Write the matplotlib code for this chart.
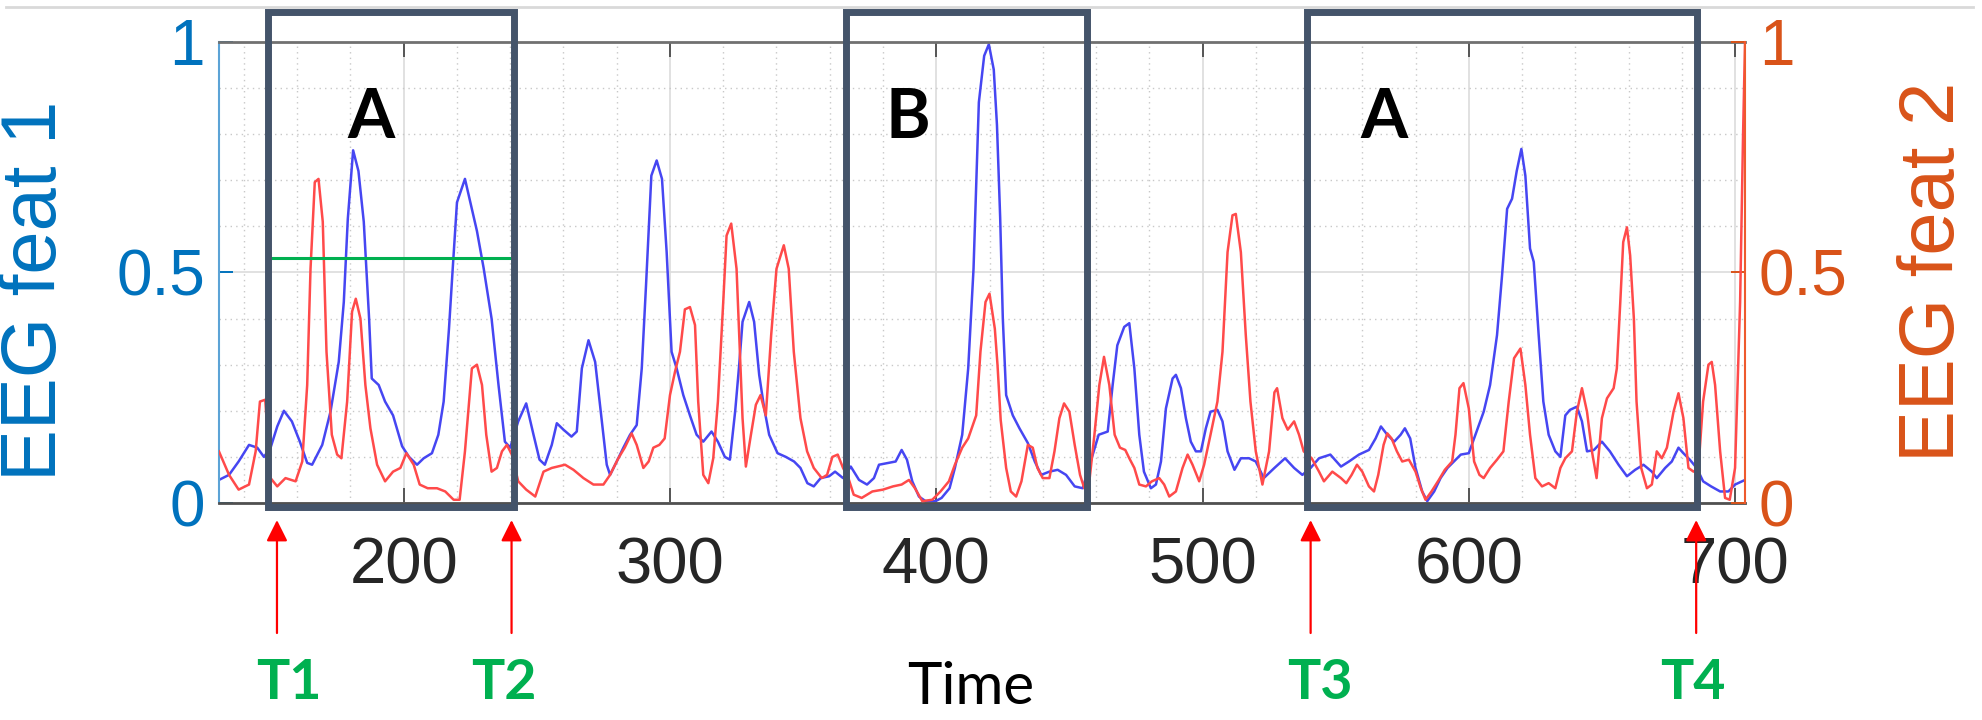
import numpy as np
import matplotlib.pyplot as plt
from matplotlib.patches import Rectangle
from matplotlib.lines import Line2D
from matplotlib.ticker import MultipleLocator

# EEG feature 1 (left axis, blue)
t_feat1 = [130.6, 134.4, 138, 141.9, 145, 147.5, 150, 152.5, 155, 158, 161, 163.75, 165.6,
           169.4, 172.5, 175.6, 177.5, 179, 181, 183, 185, 187, 188, 190.6, 193, 196, 199.4,
           202, 205, 207.5, 210.6, 213, 215, 217, 218.4, 220, 223, 225.6, 227.5, 230, 233,
           235.6, 238, 240, 243, 246, 248.75, 251, 253, 255.6, 257.5, 260, 263, 265, 266.9,
           269.4, 271.9, 274.4, 276.25, 277.5, 280, 282.5, 285, 287.5, 289.4, 291, 293, 295,
           297, 298.75, 300.6, 302.5, 305, 307.5, 310, 312.5, 315.6, 318, 320.6, 322.5, 324.5,
           326, 327.25, 329.75, 331.6, 333.5, 335.4, 337.25, 340.4, 343.5, 346.6, 349, 351.6,
           354, 356.6, 359.75, 362, 365, 367.9, 371, 374, 376.6, 378.5, 382, 384.75, 387, 389,
           391, 393.5, 396, 399.75, 402, 405, 407, 409.75, 412, 414, 416, 418, 419.75, 421.6,
           422.8, 424, 425, 426.25, 428.75, 431.25, 434.4, 437, 439.4, 442.5, 445.6, 448.75,
           452, 455, 458.75, 461, 464.4, 466.25, 468, 470.6, 472.5, 474.4, 476.25, 478, 480.6,
           482.5, 484.4, 486.25, 488.75, 490, 491.9, 493.75, 495.6, 497.5, 499.4, 501.25, 503,
           505.6, 507.5, 509.4, 512, 514.4, 517.5, 520, 523, 527, 531, 534.4, 537.5, 540.6,
           543.75, 548, 552, 555, 558.75, 562.5, 565, 567, 569.4, 572, 574.4, 576, 578, 580,
           582.5, 584.4, 587, 589.4, 592, 594.4, 597, 600, 602.5, 605.6, 608, 610.6, 612.5,
           614.4, 616.25, 618, 619.75, 621.25, 623, 624.4, 626.25, 628, 630, 632.5, 634.4,
           636.25, 638, 640.6, 642.5, 644.4, 647, 650, 653, 656.25, 659.4, 662.5, 665.6,
           668.75, 670.6, 673.75, 676.25, 678.75, 680.6, 683, 685.6, 688, 691, 694.4, 697.5,
           700, 703.75]
v_feat1 = [0.05, 0.061, 0.09, 0.126, 0.12, 0.10, 0.12, 0.166, 0.20, 0.177, 0.133, 0.087, 0.083,
           0.126, 0.198, 0.306, 0.436, 0.616, 0.765, 0.72, 0.61, 0.40, 0.27, 0.256, 0.22, 0.19,
           0.123, 0.10, 0.083, 0.097, 0.108, 0.148, 0.22, 0.378, 0.508, 0.652, 0.703, 0.638,
           0.59, 0.51, 0.40, 0.256, 0.133, 0.12, 0.177, 0.216, 0.148, 0.094, 0.083, 0.126, 0.173,
           0.159, 0.144, 0.155, 0.292, 0.353, 0.306, 0.177, 0.083, 0.061, 0.09, 0.12, 0.148,
           0.169, 0.292, 0.472, 0.71, 0.743, 0.703, 0.544, 0.328, 0.292, 0.234, 0.19, 0.148,
           0.133, 0.155, 0.133, 0.10, 0.094, 0.20, 0.30, 0.393, 0.436, 0.393, 0.278, 0.205,
           0.148, 0.108, 0.10, 0.09, 0.076, 0.043, 0.036, 0.054, 0.058, 0.068, 0.054, 0.079,
           0.05, 0.04, 0.054, 0.083, 0.087, 0.09, 0.115, 0.094, 0.047, 0.014, 0.004, 0.004,
           0.011, 0.032, 0.076, 0.148, 0.292, 0.508, 0.869, 0.97, 0.995, 0.94, 0.82, 0.62,
           0.40, 0.234, 0.19, 0.162, 0.13, 0.09, 0.061, 0.068, 0.072, 0.061, 0.036, 0.032,
           0.105, 0.148, 0.155, 0.256, 0.342, 0.382, 0.39, 0.292, 0.148, 0.068, 0.032, 0.04,
           0.09, 0.205, 0.27, 0.278, 0.249, 0.184, 0.133, 0.112, 0.112, 0.162, 0.198, 0.202,
           0.177, 0.112, 0.072, 0.097, 0.097, 0.09, 0.054, 0.076, 0.097, 0.076, 0.061, 0.076,
           0.097, 0.105, 0.079, 0.09, 0.105, 0.115, 0.14, 0.166, 0.148, 0.133, 0.148, 0.162,
           0.14, 0.076, 0.025, 0.004, 0.025, 0.054, 0.076, 0.09, 0.105, 0.108, 0.148, 0.198,
           0.256, 0.364, 0.494, 0.638, 0.66, 0.72, 0.768, 0.71, 0.552, 0.523, 0.364, 0.22,
           0.148, 0.112, 0.10, 0.19, 0.202, 0.209, 0.177, 0.112, 0.115, 0.133, 0.112, 0.083,
           0.058, 0.072, 0.083, 0.068, 0.054, 0.076, 0.09, 0.12, 0.108, 0.094, 0.076, 0.047,
           0.036, 0.025, 0.025, 0.04, 0.05]

# EEG feature 2 (right axis, red)
t_feat2 = [130.6, 134.4, 138, 141.9, 144.4, 146, 148, 150, 152.5, 155.6, 159.4, 161.9, 163.75,
           165, 166.6, 168, 169.6, 171, 173, 175, 176.6, 178.75, 180.6, 182, 183.75, 185.6,
           187.5, 190, 193, 196, 198.75, 201, 203.75, 206, 209, 212.5, 215.6, 218.75, 221, 223,
           225.6, 227.5, 229.4, 231, 233, 235, 236.9, 238.75, 240.6, 243, 246, 249.4, 252.5,
           255.6, 260.6, 263.75, 267.5, 271.25, 275, 277.5, 280.6, 283, 285.6, 287.5, 290, 292,
           293.75, 296, 298, 300, 301.9, 303.75, 305.6, 307.5, 309.4, 310.6, 312.5, 314.4,
           316.25, 318, 320, 321.25, 323, 325, 326, 327.25, 328.5, 330.4, 332.25, 334, 336, 338,
           340, 342.75, 344.6, 346.5, 349, 351.5, 354, 357, 359, 361, 363, 365, 367, 369, 372,
           376, 380, 383.75, 387, 389.75, 392, 394.75, 398.5, 401.6, 404.75, 407, 409.75, 412,
           415, 416.6, 418.5, 420, 422, 423, 424.2, 426.25, 428, 430, 432, 434.4, 436.25, 438,
           440, 442.5, 444.4, 446.25, 448, 450, 452, 454, 455.6, 457.5, 459.4, 461.25, 463, 465,
           467, 469, 471, 472.5, 474.4, 476.25, 478.75, 481, 483.75, 485.6, 487.5, 490, 492.5,
           494.4, 496.25, 498.75, 500.6, 503, 505.6, 507.5, 509.4, 511.25, 512.5, 514.4, 516.25,
           518, 520, 522.5, 525, 527, 528, 530, 532, 534.4, 536.25, 538, 541, 543.75, 545.6,
           548.75, 552, 554, 556, 558, 560, 562.5, 564.4, 566, 568, 569.4, 571, 573, 575, 577.5,
           580, 582, 583.75, 586, 588.75, 591, 593.75, 595, 596.5, 598, 600, 602, 604, 605.6,
           608, 610.6, 613, 615, 617, 619.4, 621.25, 623, 625, 627.5, 630, 632.5, 634.4, 636.25,
           638.75, 640.6, 642.5, 644.4, 646.25, 648, 650, 651.9, 654.4, 655.6, 656.9, 658,
           659.4, 660.6, 662, 663, 664.75, 666.9, 668.75, 670.6, 672.5, 674.4, 676.9, 678.75,
           680.6, 682.5, 684.4, 686.25, 688, 690, 691.25, 692.5, 694.4, 696.25, 698, 700, 701.9,
           703, 703.75]
v_feat2 = [0.112, 0.061, 0.029, 0.04, 0.112, 0.22, 0.224, 0.054, 0.036, 0.054, 0.047, 0.09, 0.256,
           0.508, 0.696, 0.703, 0.61, 0.328, 0.148, 0.105, 0.097, 0.22, 0.415, 0.443, 0.40,
           0.256, 0.162, 0.083, 0.047, 0.068, 0.076, 0.108, 0.083, 0.04, 0.032, 0.032, 0.025,
           0.007, 0.007, 0.112, 0.292, 0.30, 0.256, 0.148, 0.068, 0.076, 0.112, 0.126, 0.105,
           0.047, 0.029, 0.014, 0.068, 0.076, 0.083, 0.072, 0.054, 0.04, 0.04, 0.061, 0.097,
           0.12, 0.151, 0.126, 0.076, 0.09, 0.12, 0.126, 0.14, 0.234, 0.285, 0.328, 0.42, 0.425,
           0.386, 0.22, 0.061, 0.043, 0.097, 0.22, 0.436, 0.58, 0.606, 0.508, 0.364, 0.184,
           0.079, 0.148, 0.213, 0.234, 0.19, 0.364, 0.508, 0.559, 0.508, 0.328, 0.184, 0.112,
           0.076, 0.054, 0.061, 0.10, 0.105, 0.076, 0.054, 0.018, 0.011, 0.025, 0.029, 0.036,
           0.04, 0.05, 0.032, 0.004, 0.007, 0.025, 0.047, 0.083, 0.12, 0.14, 0.19, 0.328, 0.436,
           0.454, 0.378, 0.30, 0.18, 0.076, 0.025, 0.014, 0.047, 0.126, 0.12, 0.076, 0.054,
           0.054, 0.112, 0.184, 0.216, 0.198, 0.126, 0.061, 0.032, 0.047, 0.148, 0.256, 0.317,
           0.256, 0.148, 0.12, 0.115, 0.097, 0.076, 0.04, 0.036, 0.047, 0.054, 0.04, 0.014,
           0.025, 0.076, 0.105, 0.083, 0.047, 0.083, 0.148, 0.22, 0.328, 0.544, 0.624, 0.627,
           0.544, 0.364, 0.22, 0.112, 0.04, 0.112, 0.24, 0.249, 0.184, 0.159, 0.177, 0.148,
           0.112, 0.097, 0.068, 0.047, 0.068, 0.054, 0.043, 0.061, 0.083, 0.068, 0.036, 0.025,
           0.061, 0.126, 0.151, 0.14, 0.112, 0.09, 0.094, 0.068, 0.032, 0.007, 0.025, 0.05,
           0.072, 0.09, 0.148, 0.249, 0.26, 0.205, 0.09, 0.061, 0.054, 0.076, 0.094, 0.112,
           0.22, 0.314, 0.335, 0.256, 0.148, 0.054, 0.036, 0.043, 0.032, 0.076, 0.097, 0.112,
           0.198, 0.249, 0.198, 0.112, 0.054, 0.184, 0.227, 0.249, 0.292, 0.436, 0.566, 0.598,
           0.537, 0.40, 0.22, 0.076, 0.032, 0.04, 0.112, 0.097, 0.12, 0.198, 0.238, 0.184,
           0.076, 0.068, 0.076, 0.22, 0.30, 0.306, 0.256, 0.112, 0.011, 0.007, 0.076, 0.436,
           0.797, 1.0]

# annotation boxes (start, end, label) and markers
box_start = [149, 366, 539.4]
box_end = [241.5, 456.5, 685.6]
box_label = ['A', 'B', 'A']
box_label_x = [187.6, 389.4, 568.2]
threshold = 0.531
marker_x = [152.4, 240.5, 540.6, 685.4]
marker_label = ['T1', 'T2', 'T3', 'T4']
marker_label_x = [157, 237.5, 544, 684]

x_ticks = [200, 300, 400, 500, 600, 700]
y_ticks = [0, 0.5, 1]
y_ticklabels = ['0', '0.5', '1']

blue_ax = '#0072BD'
orange_ax = '#D95319'
box_col = '#44546A'
green = '#00B050'
axfont = 'Liberation Sans'
annfont = 'Lato'

fig = plt.figure(figsize=(19.83, 7.2), dpi=100)
ax1 = fig.add_axes([0.1104, 0.3014, 0.7696, 0.6403])
ax2 = ax1.twinx()

ax1.plot(t_feat1, v_feat1, color='#4646f2', lw=1.8)
ax2.plot(t_feat2, v_feat2, color='#ff4a4a', lw=1.8)

ax1.set_xlim(130.6, 703.75)
ax1.set_ylim(0, 1)
ax2.set_ylim(0, 1)

ax1.set_xticks(x_ticks)
ax1.xaxis.set_minor_locator(MultipleLocator(20))
ax1.yaxis.set_minor_locator(MultipleLocator(0.1))
ax1.set_yticks(y_ticks)
ax1.set_yticklabels(y_ticklabels)
ax2.set_yticks(y_ticks)
ax2.set_yticklabels(y_ticklabels)

ax1.grid(which='major', color='#dcdcdc', lw=1.2, ls='-')
ax1.grid(which='minor', color='#c8c8c8', lw=1.0, ls=(0, (1, 3)))
ax1.set_axisbelow(True)

ax1.tick_params(axis='x', which='major', direction='in', length=11, width=1.4, top=True,
                color='#555555', labelsize=47, pad=24, labelcolor='#262626')
ax1.tick_params(axis='both', which='minor', length=0)
ax1.tick_params(axis='y', which='major', direction='in', length=10, width=1.4,
                colors=blue_ax, labelsize=46, pad=10)
ax2.tick_params(axis='y', which='major', direction='in', length=10, width=1.4,
                colors=orange_ax, labelsize=46, pad=10)
ax2.tick_params(axis='y', which='minor', length=0)
for lab in ax1.get_xticklabels() + ax1.get_yticklabels() + ax2.get_yticklabels():
    lab.set_family(axfont)

ax1.spines['top'].set_color('#707070')
ax1.spines['top'].set_linewidth(2)
ax1.spines['bottom'].set_color('#505050')
ax1.spines['bottom'].set_linewidth(2)
ax1.spines['left'].set_color('#5ca3d6')
ax1.spines['left'].set_linewidth(1.5)
ax1.spines['right'].set_visible(False)
for s in ['top', 'bottom', 'left']:
    ax2.spines[s].set_visible(False)
ax2.spines['right'].set_color('#ee5a2e')
ax2.spines['right'].set_linewidth(1.5)

fig.text(0.018, 0.596, 'EEG feat 1', rotation=90, ha='center', va='center',
         fontsize=56, color=blue_ax, family=axfont)
fig.text(0.975, 0.622, 'EEG feat 2', rotation=90, ha='center', va='center',
         fontsize=56, color=orange_ax, family=axfont)

# boxes, labels and threshold line
for x0, x1, lab, lx in zip(box_start, box_end, box_label, box_label_x):
    ax2.add_patch(Rectangle((x0, -0.009), x1 - x0, 1.074, fill=False, ec=box_col,
                            lw=5, clip_on=False, zorder=10))
    ax2.text(lx, 0.835, lab, ha='center', va='center', fontsize=49, fontweight='bold',
             family=annfont, color='black', zorder=11)
ax2.plot([box_start[0], box_end[0]], [threshold, threshold], color=green, lw=2.2,
         zorder=9)

# event markers below the axis
for x in marker_x:
    ax2.annotate('', xy=(x, -0.037), xycoords=('data', 'axes fraction'),
                 xytext=(x, -0.282), textcoords=('data', 'axes fraction'),
                 arrowprops=dict(arrowstyle='-|>', color='red', lw=1.6,
                                 mutation_scale=32, shrinkA=0, shrinkB=0))
for x, lab in zip(marker_label_x, marker_label):
    ax2.text(x, -0.39, lab, transform=ax2.get_xaxis_transform(), ha='center',
             va='center', fontsize=40, fontweight='bold', color=green, family=annfont)
ax2.text(413, -0.40, 'Time', transform=ax2.get_xaxis_transform(), ha='center',
         va='center', fontsize=42, color='black', family=annfont)

fig.add_artist(Line2D([0.003, 0.995], [0.99, 0.99], transform=fig.transFigure,
                      color='#d9d9d9', lw=2))

fig.savefig('out.png', dpi=100)
